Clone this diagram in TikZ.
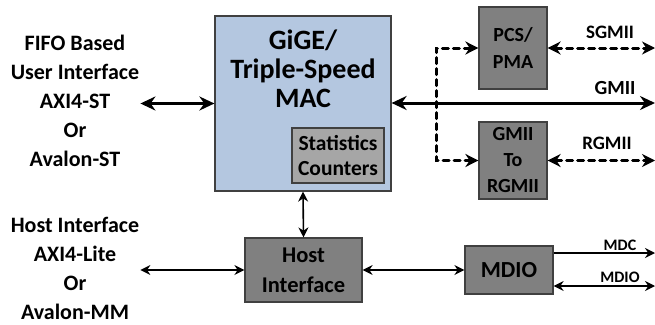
\documentclass[tikz,border=0pt]{standalone}
\usepackage{fontspec}
\setmainfont{Carlito}
\usepackage{tikz}
\usetikzlibrary{arrows.meta}
\definecolor{macblue}{RGB}{180,199,224}
\definecolor{blkgray}{RGB}{128,128,128}
\definecolor{statgray}{RGB}{166,166,166}
\definecolor{edgegray}{RGB}{64,64,64}
\tikzstyle{blk}=[draw=edgegray, line width=1.2pt, fill=blkgray, font=\bfseries, align=center, inner sep=0pt]
\tikzstyle{mac}=[blk, fill=macblue]
\tikzstyle{stat}=[blk, fill=statgray, font=\bfseries\fontsize{21.5}{25}\selectfont]
\tikzstyle{side}=[font=\bfseries\fontsize{22}{29}\selectfont, align=center, inner sep=1pt]
\tikzstyle{lbl}=[font=\bfseries\fontsize{19}{21}\selectfont, inner sep=0pt]
\tikzstyle{fat}=[line width=3pt, {Stealth[length=15pt,width=14pt]}-{Stealth[length=15pt,width=14pt]}]
\tikzstyle{thin}=[line width=1.6pt, {Stealth[length=10pt,width=10pt]}-{Stealth[length=10pt,width=10pt]}]
\tikzstyle{dots}=[line width=3pt, dash pattern=on 6pt off 5pt, line cap=round, {Stealth[length=13pt,width=13pt]}-{Stealth[length=13pt,width=13pt]}]

\begin{document}
\begin{tikzpicture}[x=1pt, y=-1pt]
  \useasboundingbox (0,0) rectangle (655,324);
  \node[mac, minimum width=176pt, minimum height=175pt] (mac) at (303,103.5) {};
  \node[font=\bfseries\fontsize{28}{29}\selectfont, align=center] (mactitle) at (303,69) {GiGE/\\Triple-Speed\\MAC};
  \node[stat, minimum width=92pt, minimum height=55pt] (stat) at (338,155.5) {Statistics\\Counters};
  \node[blk, minimum width=117pt, minimum height=64pt, font=\bfseries\fontsize{22.5}{30}\selectfont] (host) at (303.5,270) {Host\\Interface};
  \node[blk, minimum width=88pt, minimum height=48pt, font=\bfseries\fontsize{23}{26}\selectfont] (mdio) at (509,270) {MDIO};
  \node[blk, minimum width=68pt, minimum height=82pt, font=\bfseries\fontsize{20}{27}\selectfont] (pcs) at (513,48) {PCS/\\PMA};
  \node[blk, minimum width=68pt, minimum height=77pt, font=\bfseries\fontsize{20}{26}\selectfont] (conv) at (513,160.5) {GMII\\To\\RGMII};

  \node[side] (userif) at (75,101) {FIFO Based\\User Interface\\AXI4-ST\\Or\\Avalon-ST};
  \node[side] (hostif) at (75,268) {Host Interface\\AXI4-Lite\\Or\\Avalon-MM};

  \coordinate (tap) at (436,103);
  \coordinate (gmii) at (655,103);
  \coordinate (mdc) at (655,253);
  \coordinate (mdioout) at (655,286);

  \draw[fat] (userif.east |- mac.west) -- (mac.west);
  \draw[fat] (mac.east |- gmii) -- (gmii);
  \draw[thin] (mac.south) -- (host.north);
  \draw[thin] (hostif.east |- host.west) -- (host.west);
  \draw[thin] (host.east) -- (mdio.west);
  \draw[dots] (pcs.west) -- (pcs.west -| tap) -- (tap |- conv.west) -- (conv.west);
  \draw[dots] (pcs.east) -- (pcs.east -| gmii);
  \draw[dots] (conv.east) -- (conv.east -| gmii);
  \draw[line width=1.6pt, -{Stealth[length=10pt,width=10pt]}] (mdio.east |- mdc) -- (mdc);
  \draw[thin] (mdio.east |- mdioout) -- (mdioout);

  \node[lbl] (sgmiilbl) at (610,32) {SGMII};
  \node[lbl, font=\bfseries\fontsize{20}{22}\selectfont] (gmiilbl) at (615,88) {GMII};
  \node[lbl] (rgmiilbl) at (607,143) {RGMII};
  \node[lbl, font=\bfseries\fontsize{16}{18}\selectfont] (mdclbl) at (620,245) {MDC};
  \node[lbl, font=\bfseries\fontsize{16}{18}\selectfont] (mdiolbl) at (620,277) {MDIO};
\end{tikzpicture}
\end{document}
